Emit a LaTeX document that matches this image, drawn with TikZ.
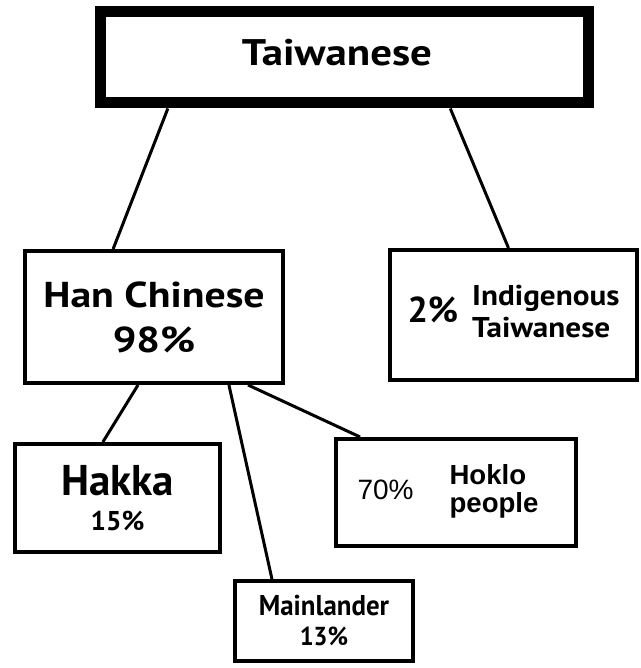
\documentclass[tikz,border=0pt]{standalone}
\usepackage{fontspec}
\setmainfont{PT Sans}
\newfontfamily\arialfont{Liberation Sans}
\usetikzlibrary{positioning,calc}
\newcommand{\wide}[1]{\addfontfeature{FakeStretch=#1}}

\begin{document}
\begin{tikzpicture}[x=0.5pt, y=-0.5pt,
  box/.style={rectangle, draw, line width=2pt, align=center,
              inner sep=0pt, font=\bfseries},
  link/.style={line width=1.5pt}
]
\useasboundingbox (0,0) rectangle (641,668);

\node[box, line width=5.5pt, minimum width=244pt, minimum height=45.5pt,
  text depth=5pt, font=\bfseries\fontsize{18.5}{20}\selectfont\wide{1.16}] (taiwanese) at (344,57.5) {Taiwanese\hspace*{7pt}};
\node[box, minimum width=129pt, minimum height=66pt,
  font=\bfseries\fontsize{18}{22.5}\selectfont\wide{1.16}] (han) at (154,317) {Han Chinese\\98\%};
\node[box, minimum width=123.5pt, minimum height=65pt] (indig) at (513.5,315)
  {{\fontsize{18}{20}\selectfont 2\%}\hspace{7pt}%
   {\fontsize{14.3}{16}\selectfont\wide{1.09}\begin{tabular}{@{}l@{}}Indigenous\\Taiwanese\end{tabular}}};
\node[box, minimum width=102.5pt, minimum height=54pt,
  font=\bfseries\fontsize{21.5}{17.5}\selectfont] (hakka) at (117.5,498)
  {Hakka\\\fontsize{13.6}{17.5}\selectfont 15\%};
\node[box, minimum width=120pt, minimum height=53.5pt, font=\arialfont] (hoklo) at (456,492.5)
  {{\fontsize{14}{16}\selectfont 70\%}\hspace{18pt}%
   {\bfseries\fontsize{13.8}{13.5}\selectfont\begin{tabular}{@{}l@{}}Hoklo\\people\end{tabular}}\hspace*{8pt}};
\node[box, minimum width=89pt, minimum height=40pt,
  font=\bfseries\fontsize{14.3}{15}\selectfont\wide{0.94}] (mainland) at (324,621)
  {Mainlander\\\fontsize{13}{15}\selectfont 13\%};

% links between the groups
\draw[link] ($(taiwanese.south west)!0.147!(taiwanese.south east)$) -- ($(han.north west)!0.344!(han.north east)$);
\draw[link] ($(taiwanese.south west)!0.713!(taiwanese.south east)$) -- ($(indig.north west)!0.48!(indig.north east)$);
\draw[link] ($(han.south west)!0.439!(han.south east)$) -- ($(hakka.north west)!0.43!(hakka.north east)$);
\draw[link] ($(han.south west)!0.786!(han.south east)$) -- ($(mainland.north west)!0.214!(mainland.north east)$);
\draw[link] ($(han.south west)!0.859!(han.south east)$) -- ($(hoklo.north west)!0.107!(hoklo.north east)$);
\end{tikzpicture}
\end{document}
